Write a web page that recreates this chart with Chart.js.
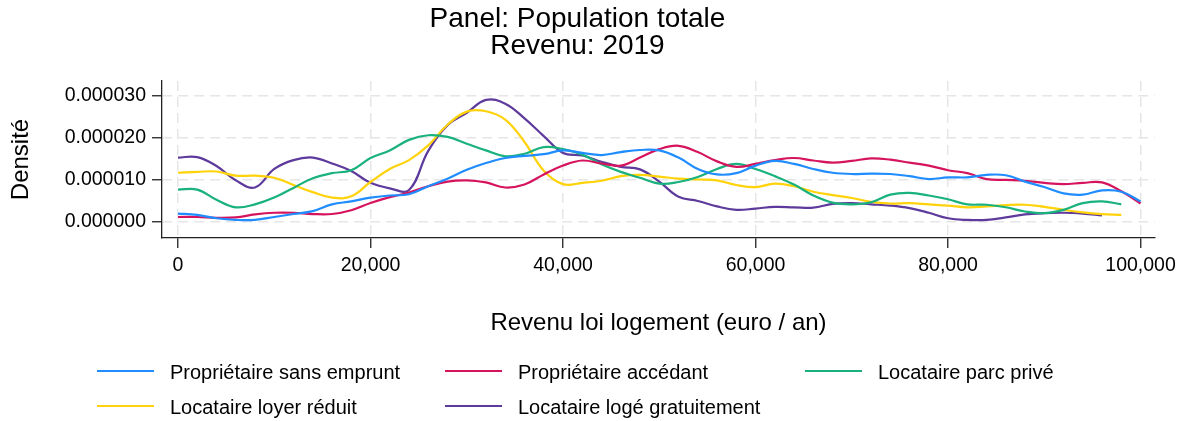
<!DOCTYPE html>
<html>
<head>
<meta charset="utf-8">
<script src="https://cdn.jsdelivr.net/npm/chart.js@4.4.1/dist/chart.umd.min.js"></script>
<style>
html,body{margin:0;padding:0;background:#fff;}
#wrap{position:relative;width:1184px;height:421px;overflow:hidden;}
canvas{position:absolute;left:0;top:0;}
#legend{position:absolute;left:0;top:0;width:1184px;height:421px;pointer-events:none;
  font-family:"Liberation Sans",Arial,sans-serif;font-size:20px;color:#000;}
.lg-text{position:absolute;white-space:nowrap;line-height:24px;}
.lg-line{position:absolute;height:2px;}
</style>
</head>
<body>
<div id="wrap">
  <canvas id="c" width="1184" height="421"></canvas>
  <div id="legend"></div>
</div>
<script>
// Income grid (euro / an)
const revenu = [0,2000,4000,6000,8000,10000,12000,14000,16000,18000,20000,22000,24000,26000,28000,30000,32000,34000,36000,38000,40000,42000,44000,46000,48000,50000,52000,54000,56000,58000,60000,62000,64000,66000,68000,70000,72000,74000,76000,78000,80000,82000,84000,86000,88000,90000,92000,94000,96000,98000,100000];

// Density values in units of 1e-6
const proprietaireSansEmprunt = [2.0,1.7,0.9,0.5,0.5,1.2,1.9,2.6,4.2,4.9,5.8,6.3,6.6,8.5,10.3,12.4,14.0,15.2,15.7,16.1,17.0,16.4,15.9,16.6,17.1,17.0,15.3,12.6,11.3,11.6,13.4,14.5,13.8,12.6,11.7,11.4,11.5,11.4,10.9,10.2,10.6,10.6,11.2,11.1,9.6,8.3,6.8,6.5,7.5,7.2,4.9];
const proprietaireAccedant = [1.2,1.2,1.0,1.1,1.8,2.2,2.2,1.9,1.9,2.8,4.5,5.9,7.0,8.5,9.6,9.9,9.4,8.2,8.9,11.3,13.4,14.6,13.9,13.4,15.3,17.3,18.1,16.6,14.4,13.1,13.8,14.7,15.2,14.6,14.1,14.5,15.1,14.8,14.1,13.4,12.3,11.6,10.2,10.0,9.8,9.3,9.0,9.3,9.4,7.3,4.4];
const locataireParcPrive = [7.7,7.7,5.3,3.5,4.2,5.8,8.1,10.4,11.6,12.3,15.2,17.0,19.5,20.6,20.2,18.6,17.0,15.6,16.2,17.8,17.3,16.0,13.7,11.9,10.5,9.1,9.5,10.7,12.6,13.8,12.6,10.9,8.9,6.3,4.6,4.2,4.7,6.5,6.9,6.3,5.4,4.2,4.1,3.5,2.5,2.1,2.9,4.5,4.9,4.2,null];
const locataireLoyerReduit = [11.7,11.9,12.0,11.0,11.0,10.5,8.8,7.1,5.8,6.1,9.5,12.6,14.7,18.2,23.1,26.2,26.3,24.3,19.0,12.2,9.0,9.3,9.8,10.9,11.2,10.8,10.3,10.1,9.9,8.8,8.3,9.1,8.5,7.2,6.4,5.7,4.8,4.4,4.5,4.2,3.9,3.5,3.7,4.0,4.1,3.6,2.9,2.3,1.9,1.7,null];
const locataireLogeGratuitement = [15.3,15.4,13.3,9.9,8.2,12.6,14.7,15.3,13.9,12.1,9.3,8.0,7.6,16.9,23.0,25.9,29.0,28.1,24.6,20.4,16.4,15.8,14.3,13.1,12.5,9.6,6.0,5.0,3.7,2.9,3.2,3.6,3.5,3.4,4.3,4.5,4.2,3.9,3.3,2.2,0.9,0.5,0.5,1.1,1.8,2.1,2.2,2.0,1.6,null,null];

const seriesLabels = ['Propriétaire sans emprunt','Propriétaire accédant','Locataire parc privé','Locataire loyer réduit','Locataire logé gratuitement'];
const seriesValues = [proprietaireSansEmprunt, proprietaireAccedant, locataireParcPrive, locataireLoyerReduit, locataireLogeGratuitement];
const seriesColors = ['#1f8cff','#d6145e','#19b27c','#ffd20a','#5d3a9b'];

const xTicks = [0,20000,40000,60000,80000,100000];
const yTicks = [0,10,20,30]; // ×1e-6

const FONT = '"Liberation Sans", Arial, sans-serif';

const datasets = seriesValues.map((vals, k) => ({
  label: seriesLabels[k],
  data: revenu.map((x, i) => ({x: x, y: vals[i]})).filter(p => p.y !== null),
  borderColor: seriesColors[k],
  backgroundColor: seriesColors[k],
  borderWidth: 2.2,
  pointRadius: 0,
  tension: 0.4,
  fill: false
}));

const chart = new Chart(document.getElementById('c').getContext('2d'), {
  type: 'line',
  data: {datasets: datasets},
  options: {
    responsive: false,
    animation: false,
    devicePixelRatio: 1,
    layout: {padding: {left: 0, right: 29, top: 0, bottom: 81}},
    plugins: {
      legend: {display: false},
      tooltip: {enabled: false},
      title: {
        display: true,
        text: ['Panel: Population totale', 'Revenu: 2019'],
        color: '#000',
        font: {family: FONT, size: 28, weight: 'normal', lineHeight: 0.964},
        padding: {top: 6, bottom: 21}
      }
    },
    scales: {
      x: {
        type: 'linear',
        min: -1660,
        max: 101500,
        afterBuildTicks: s => { s.ticks = xTicks.map(v => ({value: v})); },
        afterFit: s => { s.height = 102; },
        grid: {color: '#e6e6e6', lineWidth: 1.5, tickColor: '#222', tickLength: 10, tickWidth: 1.3, tickBorderDash: []},
        border: {display: true, color: '#222', width: 1.3, dash: [10, 6]},
        ticks: {
          color: '#000', padding: 6, maxRotation: 0, autoSkip: false,
          font: {family: FONT, size: 19.5},
          callback: v => v.toLocaleString('en-US')
        },
        title: {
          display: true, text: 'Revenu loi logement (euro / an)', color: '#000',
          font: {family: FONT, size: 24}, padding: {top: 0, bottom: 2}
        }
      },
      y: {
        type: 'linear',
        min: -3.79,
        max: 33.48,
        afterBuildTicks: s => { s.ticks = yTicks.map(v => ({value: v})); },
        afterFit: s => { s.width = 162; },
        grid: {color: '#e6e6e6', lineWidth: 1.5, tickColor: '#222', tickLength: 10, tickWidth: 1.3, tickBorderDash: []},
        border: {display: true, color: '#222', width: 1.3, dash: [10, 6]},
        ticks: {
          color: '#000', padding: 6, autoSkip: false,
          font: {family: FONT, size: 19.5},
          callback: v => (v / 1e6).toFixed(6)
        },
        title: {
          display: true, text: 'Densité', color: '#000',
          font: {family: FONT, size: 24}, padding: {top: 7, bottom: 0}
        }
      }
    }
  }
});

// Legend (HTML, built from the chart's datasets)
const legend = document.getElementById('legend');
const colX = [97, 445, 805];
const rowLineY = [370, 405];
const rowTextTop = [360, 395];
chart.data.datasets.forEach((ds, i) => {
  const r = Math.floor(i / 3), c = i % 3;
  const ln = document.createElement('div');
  ln.className = 'lg-line';
  ln.style.left = colX[c] + 'px';
  ln.style.top = rowLineY[r] + 'px';
  ln.style.width = '57px';
  ln.style.background = ds.borderColor;
  legend.appendChild(ln);
  const t = document.createElement('div');
  t.className = 'lg-text';
  t.style.left = (colX[c] + 73) + 'px';
  t.style.top = rowTextTop[r] + 'px';
  t.textContent = ds.label;
  legend.appendChild(t);
});
</script>
</body>
</html>
